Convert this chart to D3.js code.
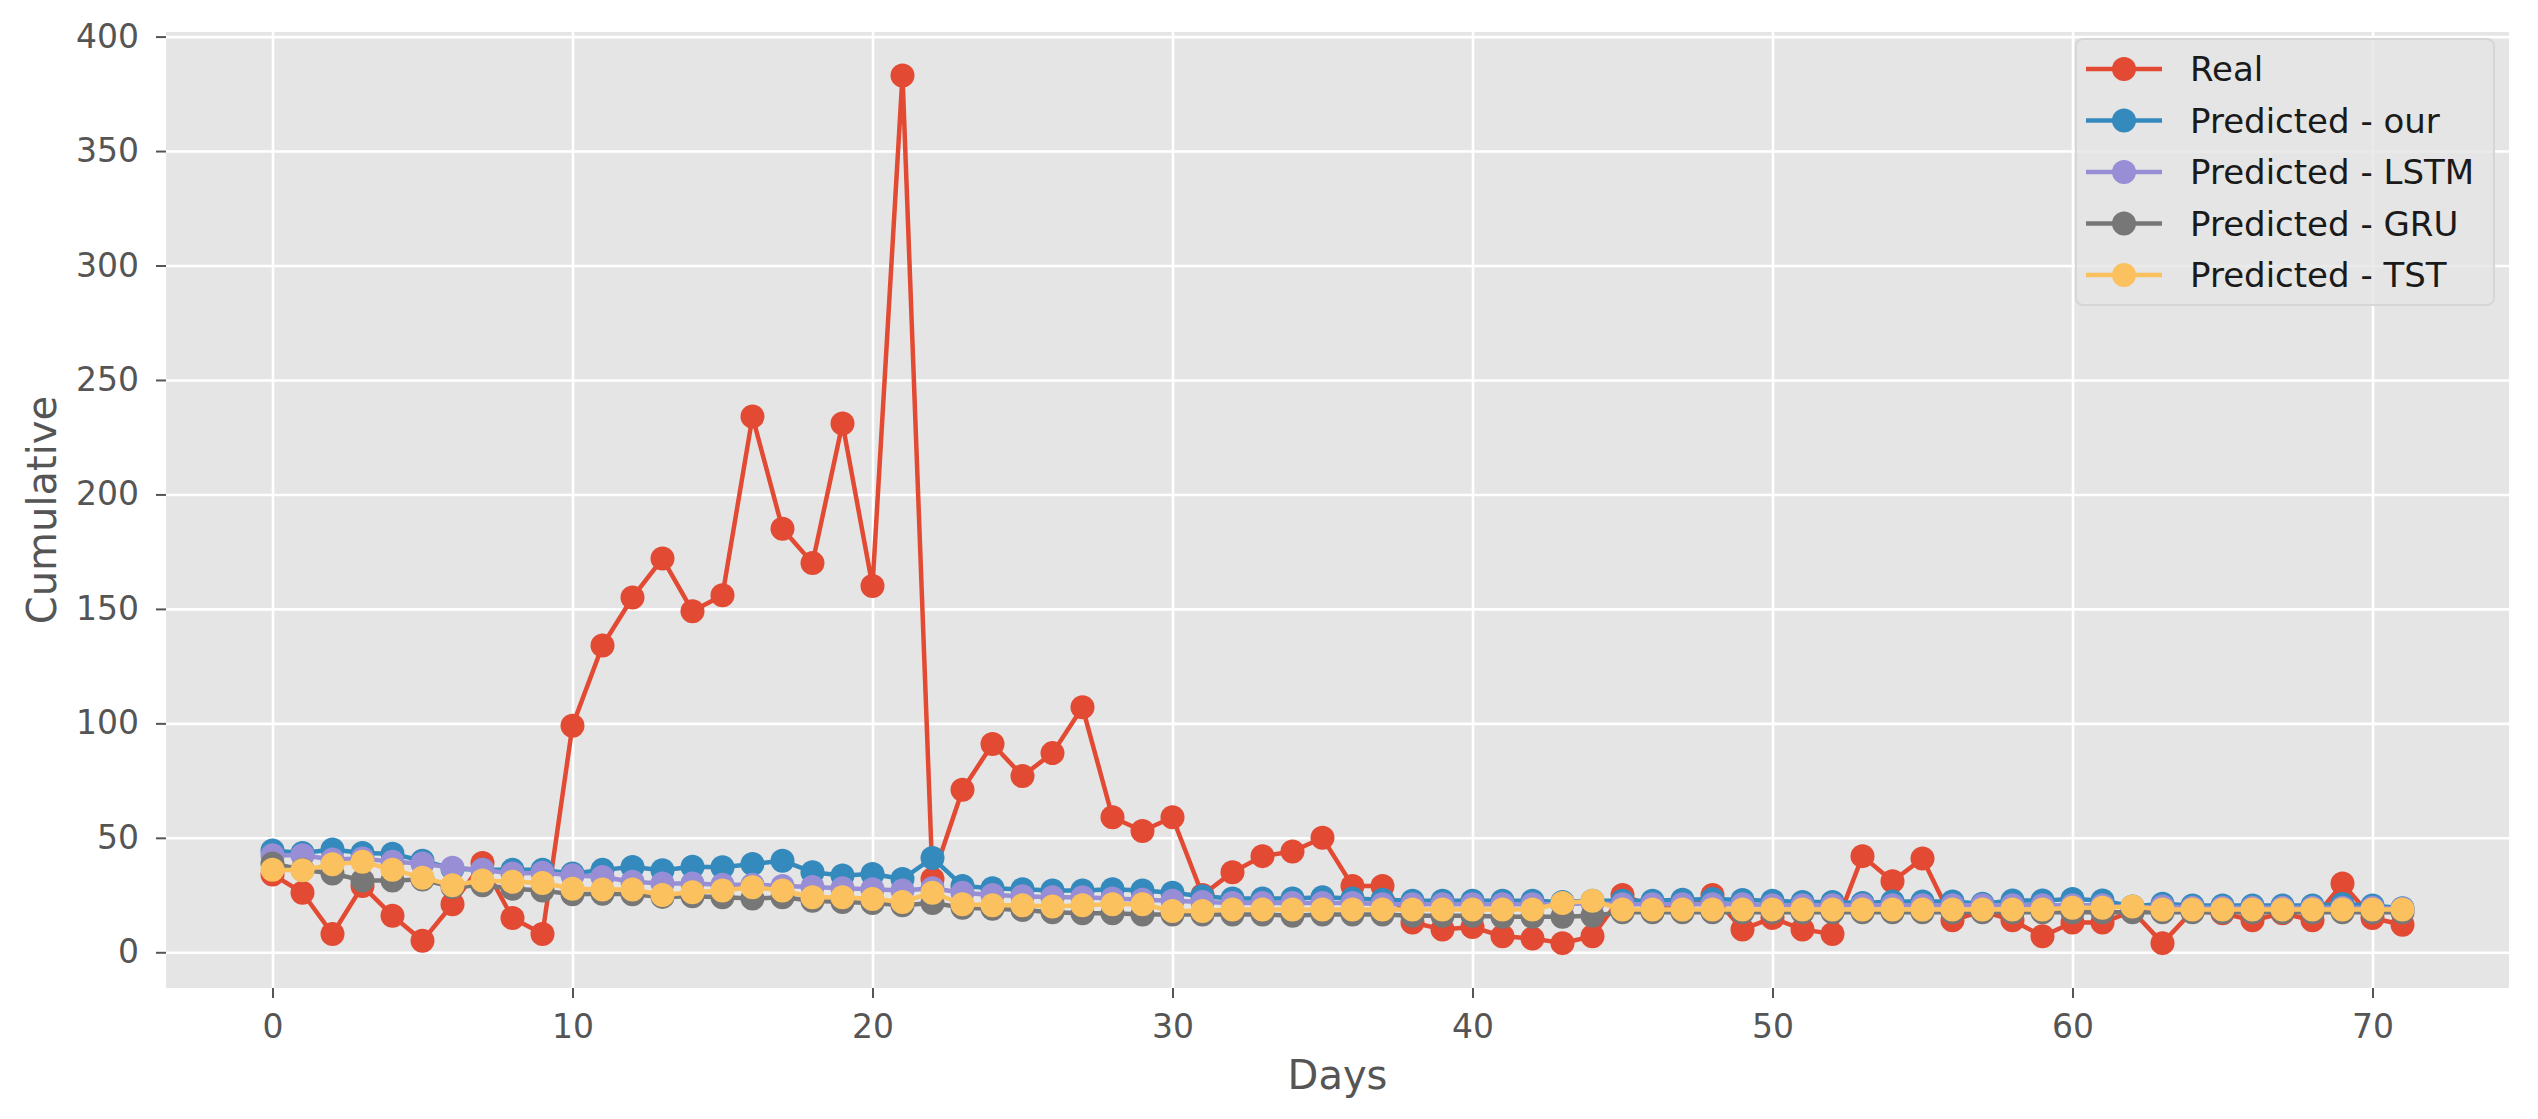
<!DOCTYPE html>
<html>
<head>
<meta charset="utf-8">
<script src="https://cdn.jsdelivr.net/npm/d3@7"></script>
<style>
html, body { margin: 0; padding: 0; background: #ffffff; }
svg { display: block; font-family: "DejaVu Sans", sans-serif; }
</style>
</head>
<body>
<svg id="chart" width="2538" height="1119"></svg>
<script>
// ---------------- data ----------------
const days = d3.range(0, 72);

const real = [34,26,8,29,16,5,21,39,15,8,
  99,134,155,172,149,156,234,185,170,231,
  160,383,32,71,91,77,87,107,59,53,
  59,25,35,42,44,50,29,29,13,10,
  11,7,6,4,7,25,20,19,25,10,
  15,10,8,42,31,41,14,18,14,7,
  13,13,18,4,18,17,14,17,14,30,
  15,12];

const predOur = [44.5,43.4,44.9,43.4,43,40,36.5,36,36,36,
  34.4,36,37.3,35.8,37.4,37.1,38.6,40,35,33.5,
  34.2,32,41.2,29,28,27.5,27,27,27.5,27,
  26,24.5,23.5,23.5,23.5,24,23.5,23,22.5,22.5,
  22.5,22.5,22.5,22,22.5,22.5,22.5,23,23.3,22.8,
  22.5,22,22,21.5,22.2,22.2,22.2,21.2,22.6,22.6,
  23.3,22.6,20,21.2,20.4,20.4,20.4,20.4,20.4,21.1,
  20.4,19.2];

const predLSTM = [42.4,42.4,40.5,41,39.5,38.8,36.9,36.1,34.4,34.7,
  33.6,32.9,30.8,30,30,29.5,29.5,29,28.5,28,
  27.5,27,28,26,25,24.5,24,24,23.5,23,
  22.5,22,21.5,21.5,21.5,21.5,21.5,21,21,21,
  21,21,21,21,21.5,21,21,21,21,21,
  20.5,20.5,20.5,20.5,20.5,20.5,20.5,20.5,20.5,20.5,
  20.5,20.5,19.5,20,19.5,19.5,19.5,19.5,19.5,19.5,
  19.5,19];

const predGRU = [38.8,36.1,34.4,31.4,31.4,31.8,28.5,29.3,27.8,27,
  25.3,25.6,25.3,24.2,24.5,24,23.5,24,22.5,22,
  21.5,20.5,21.5,19.5,19,18.5,17.5,17,17,16.5,
  16.5,16.5,16.5,16.5,16,16.5,16.5,16.5,16,16,
  16,15.5,15.5,15.5,16,17.5,17.5,17.5,17.5,17.5,
  17.5,17.5,17.5,17.5,17.5,17.5,17.5,17.5,17.5,17.5,
  17.5,17.5,17.5,17.5,17.5,17.5,17.5,17.5,17.5,17.5,
  17.5,17.5];

const predTST = [36.1,35.8,38.5,39.5,36.1,32.6,29.3,31.4,30.8,30.3,
  27.8,27.4,27.4,25,26.2,27,28.4,27,24,24,
  23.3,22,26,21,20.5,20.5,20,20.5,21,21,
  18,18,18.7,18.7,18.7,18.7,18.7,18.7,18.7,18.7,
  18.7,18.7,18.7,21.5,22.5,18.7,18.7,18.7,18.7,18.7,
  18.7,18.7,18.7,18.7,18.7,18.7,18.7,18.7,18.7,18.7,
  19.5,19.5,20,18.7,18.7,18.7,18.7,18.7,18.7,18.7,
  18.7,18.7];

const seriesNames = ["Real", "Predicted - our", "Predicted - LSTM", "Predicted - GRU", "Predicted - TST"];
const seriesColors = ["#E24A33", "#348ABD", "#988ED5", "#777777", "#FBC15E"];
const seriesValues = [real, predOur, predLSTM, predGRU, predTST];

const xTicks = [0, 10, 20, 30, 40, 50, 60, 70];
const yTicks = [0, 50, 100, 150, 200, 250, 300, 350, 400];
const xLabel = "Days";
const yLabel = "Cumulative";

// ---------------- layout ----------------
const plot = { left: 166, right: 2509, top: 32, bottom: 988 };
const svg = d3.select("#chart");

const x = d3.scaleLinear().domain([-3.55, 74.55]).range([plot.left, plot.right]);
const y = d3.scaleLinear().domain([-15.6, 402]).range([plot.bottom, plot.top]);

// background
svg.append("rect")
  .attr("x", plot.left).attr("y", plot.top)
  .attr("width", plot.right - plot.left).attr("height", plot.bottom - plot.top)
  .attr("fill", "#E5E5E5");

// gridlines
const gridX = svg.append("g")
  .attr("transform", `translate(0,${plot.bottom})`)
  .call(d3.axisBottom(x).tickValues(xTicks).tickSize(-(plot.bottom - plot.top)).tickFormat(""));
const gridY = svg.append("g")
  .attr("transform", `translate(${plot.left},0)`)
  .call(d3.axisLeft(y).tickValues(yTicks).tickSize(-(plot.right - plot.left)).tickFormat(""));
[gridX, gridY].forEach(g => {
  g.select(".domain").remove();
  g.selectAll(".tick line").attr("stroke", "#ffffff").attr("stroke-width", 2.6);
});

// axes
const xAxis = svg.append("g")
  .attr("transform", `translate(0,${plot.bottom})`)
  .call(d3.axisBottom(x).tickValues(xTicks).tickSize(10).tickPadding(17).tickFormat(d3.format("d")));
const yAxis = svg.append("g")
  .attr("transform", `translate(${plot.left},0)`)
  .call(d3.axisLeft(y).tickValues(yTicks).tickSize(10).tickPadding(17).tickFormat(d3.format("d")));
[xAxis, yAxis].forEach(g => {
  g.select(".domain").remove();
  g.selectAll(".tick line").attr("stroke", "#555555").attr("stroke-width", 2);
  g.selectAll(".tick text")
    .attr("fill", "#555555")
    .style("font-family", '"DejaVu Sans", sans-serif')
    .style("font-size", "33px");
});

// axis labels
svg.append("text")
  .attr("x", (plot.left + plot.right) / 2).attr("y", 1089)
  .attr("text-anchor", "middle")
  .attr("fill", "#555555")
  .style("font-size", "40px")
  .text(xLabel);
svg.append("text")
  .attr("transform", `translate(56,${(plot.top + plot.bottom) / 2}) rotate(-90)`)
  .attr("text-anchor", "middle")
  .attr("fill", "#555555")
  .style("font-size", "40px")
  .text(yLabel);

// series
const line = d3.line().x((d, i) => x(days[i])).y(d => y(d));
const clip = svg.append("clipPath").attr("id", "plotclip")
  .append("rect")
  .attr("x", plot.left).attr("y", plot.top)
  .attr("width", plot.right - plot.left).attr("height", plot.bottom - plot.top);
const seriesLayer = svg.append("g").attr("clip-path", "url(#plotclip)");

seriesValues.forEach((vals, si) => {
  const g = seriesLayer.append("g");
  g.append("path")
    .datum(vals)
    .attr("d", line)
    .attr("fill", "none")
    .attr("stroke", seriesColors[si])
    .attr("stroke-width", 4.5)
    .attr("stroke-linejoin", "round");
  g.selectAll("circle")
    .data(vals)
    .join("circle")
    .attr("cx", (d, i) => x(days[i]))
    .attr("cy", d => y(d))
    .attr("r", 12)
    .attr("fill", seriesColors[si]);
});

// legend
const legend = { x: 2076, y: 39, w: 418, h: 266, rowY0: 69, rowStep: 51.5 };
const lg = svg.append("g");
lg.append("rect")
  .attr("x", legend.x).attr("y", legend.y)
  .attr("width", legend.w).attr("height", legend.h)
  .attr("rx", 7)
  .attr("fill", "#E5E5E5").attr("fill-opacity", 0.8)
  .attr("stroke", "#d6d6d6").attr("stroke-width", 2);
seriesNames.forEach((name, i) => {
  const ry = legend.rowY0 + i * legend.rowStep;
  lg.append("line")
    .attr("x1", 2086).attr("x2", 2162)
    .attr("y1", ry).attr("y2", ry)
    .attr("stroke", seriesColors[i]).attr("stroke-width", 4.5);
  lg.append("circle")
    .attr("cx", 2124).attr("cy", ry).attr("r", 12)
    .attr("fill", seriesColors[i]);
  lg.append("text")
    .attr("x", 2190).attr("y", ry)
    .attr("dy", "0.36em")
    .attr("fill", "#1a1a1a")
    .style("font-size", "34px")
    .text(name);
});
</script>
</body>
</html>
